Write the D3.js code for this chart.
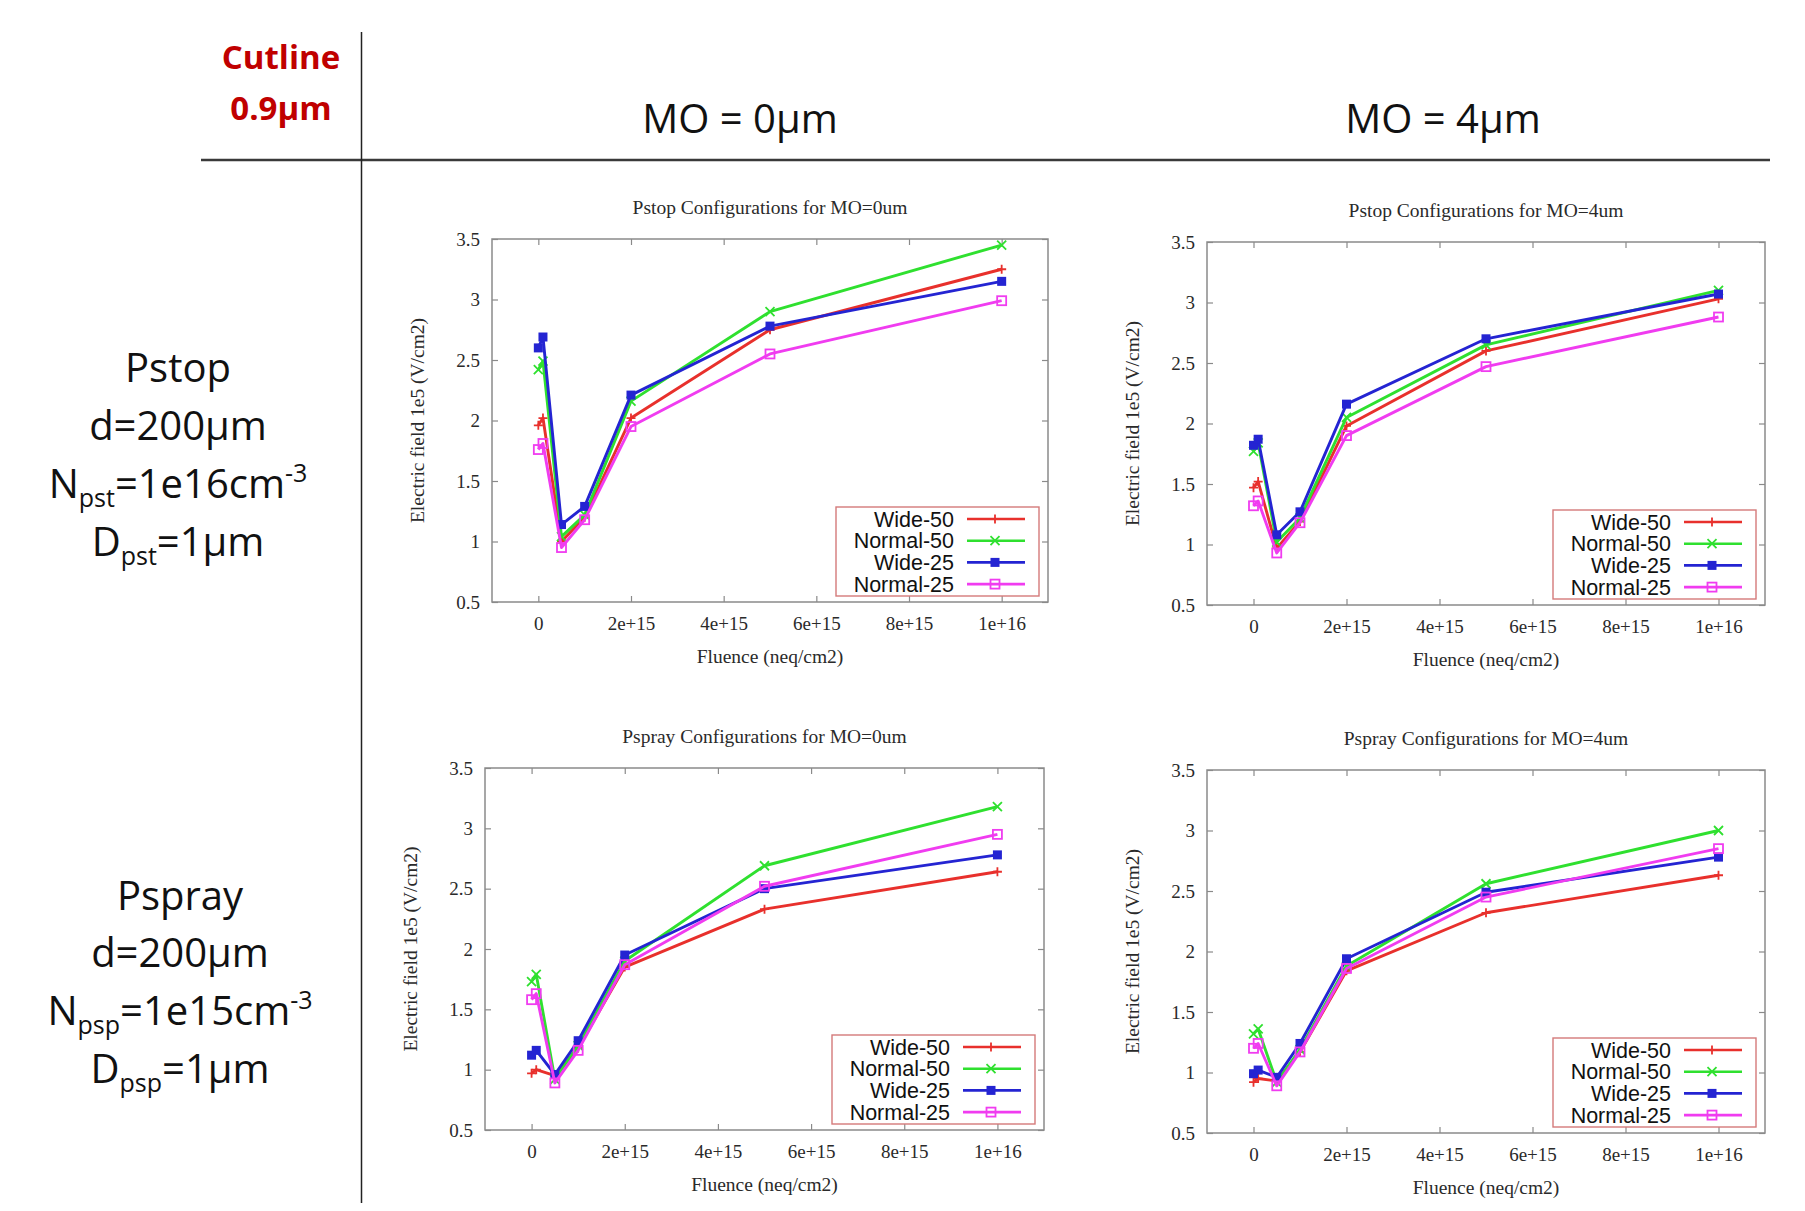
<!DOCTYPE html>
<html>
<head>
<meta charset="utf-8">
<script src="https://cdn.jsdelivr.net/npm/d3@7"></script>
<style>
  body { margin: 0; background: #fff; }
  svg { display: block; }
</style>
</head>
<body>
<svg id="chart" width="1805" height="1211"></svg>
<script>
// fluence points (neq/cm2), same for every panel
const fluence = [0, 1e14, 5e14, 1e15, 2e15, 5e15, 1e16];
const seriesNames = ['Wide-50', 'Normal-50', 'Wide-25', 'Normal-25'];
const xTicks = [0, 2e15, 4e15, 6e15, 8e15, 1e16];
const xTickLabels = ['0', '2e+15', '4e+15', '6e+15', '8e+15', '1e+16'];
const yTicks = [0.5, 1, 1.5, 2, 2.5, 3, 3.5];
const yTickLabels = ['0.5', '1', '1.5', '2', '2.5', '3', '3.5'];

// electric field 1e5 V/cm2
const pstop0Wide50 = [1.96, 2.02, 1.00, 1.20, 2.02, 2.75, 3.25];
const pstop0Normal50 = [2.42, 2.49, 1.04, 1.22, 2.16, 2.90, 3.45];
const pstop0Wide25 = [2.60, 2.69, 1.14, 1.29, 2.21, 2.78, 3.15];
const pstop0Normal25 = [1.76, 1.81, 0.95, 1.18, 1.95, 2.55, 2.99];

const pstop4Wide50 = [1.47, 1.52, 0.97, 1.19, 1.98, 2.60, 3.03];
const pstop4Normal50 = [1.77, 1.84, 1.02, 1.22, 2.05, 2.65, 3.10];
const pstop4Wide25 = [1.82, 1.87, 1.08, 1.27, 2.16, 2.70, 3.07];
const pstop4Normal25 = [1.32, 1.36, 0.93, 1.18, 1.90, 2.47, 2.88];

const pspray0Wide50 = [0.97, 1.00, 0.95, 1.18, 1.85, 2.33, 2.64];
const pspray0Normal50 = [1.73, 1.79, 0.92, 1.20, 1.90, 2.69, 3.18];
const pspray0Wide25 = [1.12, 1.16, 0.96, 1.24, 1.95, 2.50, 2.78];
const pspray0Normal25 = [1.58, 1.63, 0.89, 1.16, 1.87, 2.52, 2.95];

const pspray4Wide50 = [0.92, 0.95, 0.93, 1.17, 1.84, 2.32, 2.63];
const pspray4Normal50 = [1.32, 1.36, 0.92, 1.19, 1.88, 2.56, 3.00];
const pspray4Wide25 = [0.99, 1.02, 0.96, 1.24, 1.94, 2.49, 2.78];
const pspray4Normal25 = [1.20, 1.24, 0.89, 1.17, 1.86, 2.45, 2.85];

const colors = ['#e8302c', '#2fe02f', '#2424d2', '#f03cf0'];
const markers = ['plus', 'cross', 'box', 'openbox'];

const panels = [
  { title: 'Pstop Configurations for MO=0um', x: 492, y: 239, w: 556, h: 363,
    series: [pstop0Wide50, pstop0Normal50, pstop0Wide25, pstop0Normal25] },
  { title: 'Pstop Configurations for MO=4um', x: 1207, y: 242, w: 558, h: 363,
    series: [pstop4Wide50, pstop4Normal50, pstop4Wide25, pstop4Normal25] },
  { title: 'Pspray Configurations for MO=0um', x: 485, y: 768, w: 559, h: 362,
    series: [pspray0Wide50, pspray0Normal50, pspray0Wide25, pspray0Normal25] },
  { title: 'Pspray Configurations for MO=4um', x: 1207, y: 770, w: 558, h: 363,
    series: [pspray4Wide50, pspray4Normal50, pspray4Wide25, pspray4Normal25] }
];

const svg = d3.select('#chart');
const serif = 'Liberation Serif, Times New Roman, serif';

// ---- table frame and headings ----
svg.append('line').attr('x1', 201).attr('x2', 1770).attr('y1', 160).attr('y2', 160)
  .attr('stroke', '#3a3a3a').attr('stroke-width', 2.5);
svg.append('line').attr('x1', 361.5).attr('x2', 361.5).attr('y1', 32).attr('y2', 1203)
  .attr('stroke', '#222').attr('stroke-width', 1.5);

const head = svg.append('g').attr('font-family', 'Open Sans, sans-serif');
head.append('text').attr('x', 281).attr('y', 69).attr('text-anchor', 'middle')
  .attr('font-size', 33).attr('font-weight', 700).attr('fill', '#c00000').text('Cutline');
head.append('text').attr('x', 281).attr('y', 120).attr('text-anchor', 'middle')
  .attr('font-size', 33).attr('font-weight', 700).attr('fill', '#c00000').text('0.9µm');
head.append('text').attr('x', 740).attr('y', 133).attr('text-anchor', 'middle')
  .attr('font-size', 40).attr('fill', '#111').text('MO = 0µm');
head.append('text').attr('x', 1443).attr('y', 133).attr('text-anchor', 'middle')
  .attr('font-size', 40).attr('fill', '#111').text('MO = 4µm');

// text lines with sub/superscripts
const richText = (x, y, parts) => {
  const t = head.append('text').attr('x', x).attr('y', y).attr('text-anchor', 'middle')
    .attr('font-size', 40).attr('fill', '#111');
  let shift = 0;
  parts.forEach(([s, kind]) => {
    const target = kind === 'sub' ? 9 : kind === 'sup' ? -16 : 0;
    t.append('tspan').attr('dy', target - shift).attr('font-size', kind ? 25 : null).text(s);
    shift = target;
  });
};

const pstopLines = [
  [['Pstop']],
  [['d=200µm']],
  [['N'], ['pst', 'sub'], ['=1e16cm'], ['-3', 'sup']],
  [['D'], ['pst', 'sub'], ['=1µm']]
];
const psprayLines = [
  [['Pspray']],
  [['d=200µm']],
  [['N'], ['psp', 'sub'], ['=1e15cm'], ['-3', 'sup']],
  [['D'], ['psp', 'sub'], ['=1µm']]
];
[382, 440, 498, 556].forEach((y, i) => richText(178, y, pstopLines[i]));
[910, 967, 1025, 1083].forEach((y, i) => richText(180, y, psprayLines[i]));

// ---- markers ----
const drawMarker = (g, type, color, cx, cy) => {
  const s = 4.5;
  if (type === 'plus') {
    g.append('path').attr('d', `M${cx - s},${cy}H${cx + s}M${cx},${cy - s}V${cy + s}`)
      .attr('stroke', color).attr('stroke-width', 1.8).attr('fill', 'none');
  } else if (type === 'cross') {
    g.append('path').attr('d', `M${cx - s},${cy - s}L${cx + s},${cy + s}M${cx - s},${cy + s}L${cx + s},${cy - s}`)
      .attr('stroke', color).attr('stroke-width', 1.8).attr('fill', 'none');
  } else if (type === 'box') {
    g.append('rect').attr('x', cx - s).attr('y', cy - s).attr('width', 2 * s).attr('height', 2 * s)
      .attr('fill', color);
  } else {
    g.append('rect').attr('x', cx - s).attr('y', cy - s).attr('width', 2 * s).attr('height', 2 * s)
      .attr('fill', 'none').attr('stroke', color).attr('stroke-width', 1.8);
  }
};

// ---- the four gnuplot panels ----
panels.forEach(p => {
  const g = svg.append('g').attr('transform', `translate(${p.x},${p.y})`);
  const x = d3.scaleLinear().domain([-1e15, 1.1e16]).range([0, p.w]);
  const y = d3.scaleLinear().domain([0.5, 3.5]).range([p.h, 0]);

  const styleAxis = sel => {
    sel.select('.domain').remove();
    sel.selectAll('line').attr('stroke', '#8a8a8a').attr('stroke-width', 1.2);
    sel.selectAll('text').attr('font-family', serif).attr('font-size', 19).attr('fill', '#2a2a2a');
  };

  g.append('g').attr('transform', `translate(0,${p.h})`)
    .call(d3.axisBottom(x).tickValues(xTicks).tickSize(-6).tickPadding(15)
      .tickFormat((d, i) => xTickLabels[i]))
    .call(styleAxis);
  g.append('g')
    .call(d3.axisTop(x).tickValues(xTicks).tickSize(-6).tickFormat(''))
    .call(styleAxis);
  g.append('g')
    .call(d3.axisLeft(y).tickValues(yTicks).tickSize(-6).tickPadding(12)
      .tickFormat((d, i) => yTickLabels[i]))
    .call(styleAxis);
  g.append('g').attr('transform', `translate(${p.w},0)`)
    .call(d3.axisRight(y).tickValues(yTicks).tickSize(-6).tickFormat(''))
    .call(styleAxis);

  g.append('rect').attr('width', p.w).attr('height', p.h)
    .attr('fill', 'none').attr('stroke', '#8a8a8a').attr('stroke-width', 1.5);

  g.append('text').attr('x', p.w / 2).attr('y', -25).attr('text-anchor', 'middle')
    .attr('font-family', serif).attr('font-size', 19.5).attr('fill', '#2a2a2a').text(p.title);
  g.append('text').attr('x', p.w / 2).attr('y', p.h + 61).attr('text-anchor', 'middle')
    .attr('font-family', serif).attr('font-size', 19.5).attr('fill', '#2a2a2a').text('Fluence (neq/cm2)');
  g.append('text').attr('transform', `translate(-68,${p.h / 2}) rotate(-90)`)
    .attr('text-anchor', 'middle')
    .attr('font-family', serif).attr('font-size', 19.5).attr('fill', '#2a2a2a')
    .text('Electric field 1e5 (V/cm2)');

  const line = d3.line().x((d, i) => x(fluence[i])).y(d => y(d));
  p.series.forEach((vals, k) => {
    g.append('path').datum(vals).attr('d', line)
      .attr('fill', 'none').attr('stroke', colors[k]).attr('stroke-width', 2.9)
      .attr('stroke-linejoin', 'round');
    vals.forEach((v, i) => drawMarker(g, markers[k], colors[k], x(fluence[i]), y(v)));
  });

  // legend box, bottom right
  const lg = g.append('g').attr('transform', `translate(${p.w - 212},${p.h - 95})`);
  lg.append('rect').attr('width', 203).attr('height', 89)
    .attr('fill', '#fff').attr('stroke', '#d47a7a').attr('stroke-width', 1.4);
  seriesNames.forEach((name, k) => {
    const ry = 12 + k * 21.7;
    lg.append('text').attr('x', 118).attr('y', ry + 7.5).attr('text-anchor', 'end')
      .attr('font-family', 'Liberation Sans, Arial, sans-serif').attr('font-size', 21.5)
      .attr('fill', '#111').text(name);
    lg.append('line').attr('x1', 131).attr('x2', 189).attr('y1', ry).attr('y2', ry)
      .attr('stroke', colors[k]).attr('stroke-width', 2.6);
    drawMarker(lg, markers[k], colors[k], 159, ry);
  });
});
</script>
</body>
</html>
